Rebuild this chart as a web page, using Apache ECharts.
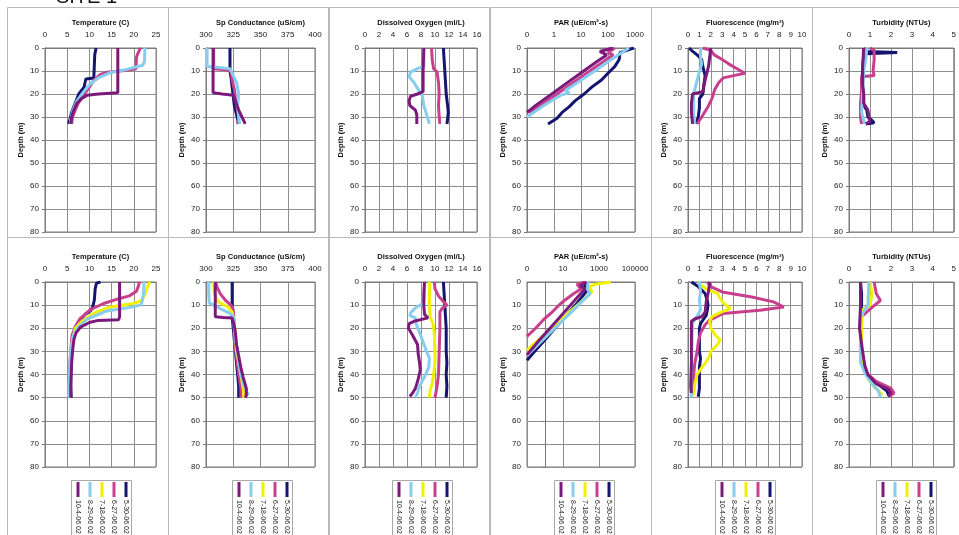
<!DOCTYPE html>
<html><head><meta charset="utf-8">
<script src="https://cdn.jsdelivr.net/npm/echarts@6/dist/echarts.min.js"></script>
<style>html,body{margin:0;padding:0;background:#fff}#c{width:959px;height:535px}</style>
</head><body><div id="c"></div>
<script>
// ---------- labels ----------
const siteLabel = 'SITE 1';
const titles = ['Temperature (C)','Sp Conductance (uS/cm)','Dissolved Oxygen (ml/L)','PAR (uE/cm\u00B2-s)','Fluorescence (mg/m\u00B3)','Turbidity (NTUs)'];
const depthName = 'Depth (m)';
const dates = ['5-30-06 02','6-27-06 02','7-18-06 02','8-29-06 02','10-4-06 02'];
const depthTicks = [0,10,20,30,40,50,60,70,80];
const xMin = [0,300,0,0.1,0,0];
const xMax = [25,400,16,null,10,5];
const xStep = [5,25,2,null,1,1];
const parMaxTop = 1000, parMaxBottom = 100000;

// ---------- top row (A) : [value, depth] ----------
const tempA_0530 = [[11.5,0],[11.2,3],[11.1,8],[11.0,13],[9.2,13.5],[8.8,17],[7.6,20],[6.8,24],[6.0,28],[5.6,31],[5.3,33]];
const tempA_0627 = [[21.5,0],[21,2],[20.6,4],[20.5,9],[18,9.8],[14,10.5],[12.5,11.5],[11,14],[10,17],[8.5,21],[7.5,24],[6.8,27],[6.2,30],[6.0,33]];
const tempA_0829 = [[22.5,0],[22.4,6],[22,7.5],[20,8.5],[18,9.5],[15,10.5],[12,13],[10,16],[8.5,19.5],[7.2,23],[6.3,27],[5.8,31],[5.7,33]];
const tempA_1004 = [[16.4,0],[16.4,19.5],[12,20],[9.5,20.5],[8.2,22],[7.2,24],[6.5,27],[6.0,30],[5.8,33]];

const condA_0530 = [[322,0],[322,10],[323,13],[324,17],[325,21],[326,25],[328,29],[330,33]];
const condA_0627 = [[307,0],[307,9],[318,9.5],[323,10],[324,14],[326,18],[327,22],[329,27],[330,30],[329,33]];
const condA_0829 = [[301,0],[301,8],[312,8.5],[322,9],[325,12],[328,15],[330,20],[329,25],[330,30],[331,33]];
const condA_1004 = [[306.5,0],[306.5,19.5],[315,20],[325,20.5],[327,23],[330,27],[333,30],[336,33]];

const doA_0530 = [[11.2,0],[11.3,5],[11.4,10],[11.5,15],[11.6,20],[11.8,25],[11.9,28],[11.8,31],[11.7,33]];
const doA_0627 = [[9.5,0],[9.6,5],[9.8,9],[10.3,10.5],[10.5,15],[10.6,20],[10.5,25],[10.6,30],[10.7,33]];
const doA_0829 = [[8.4,0],[8.4,8],[7.5,9],[6.5,10.5],[6.3,12.5],[7.0,15],[7.6,18],[8.2,21],[8.4,25],[8.7,28],[9.2,33]];
const doA_1004 = [[8.4,0],[8.3,10],[8.3,19],[7.5,20],[6.5,21],[6.3,23],[6.4,25],[7.2,27],[7.4,29],[7.4,33]];

const parA_0530 = [[900,0],[280,2],[260,5],[180,8],[100,11],[56,14],[25,17],[13,20],[6,23],[3.7,25.5],[2,28],[1.3,30.5],[0.6,33]];
const parA_0627 = [[180,0],[100,2],[155,3],[66,6],[21,10],[5.2,15],[1.3,20],[0.32,25],[0.12,28.5]];
const parA_0829 = [[600,0],[240,3],[100,6],[32,10],[7.5,15],[2.6,18.5],[3.7,19.5],[1.8,20.5],[0.42,25],[0.1,30]];
const parA_1004 = [[150,0],[50,1.5],[90,3],[38,6],[12.6,10],[3.2,15],[0.83,20],[0.21,25],[0.1,28]];

const fluA_0530 = [[0.1,0],[0.3,1],[0.8,3],[1.2,5],[1.3,8],[1.5,12],[1.4,16],[1.3,20],[1.0,22],[1.0,26],[0.9,30],[0.7,33]];
const fluA_0627 = [[1.3,0],[2.0,1],[2.3,3],[3.0,5],[3.6,7],[4.3,9],[5.0,11],[4.0,12],[3.1,13],[2.7,15],[2.35,18],[2.1,22],[1.7,26],[1.2,30],[0.8,33]];
const fluA_0829 = [[1.1,0],[1.1,4],[1.2,7],[0.9,12],[0.7,16],[0.5,20],[0.5,25],[0.5,30],[0.6,33]];
const fluA_1004 = [[2.0,0],[1.9,4],[1.8,8],[1.6,12],[1.4,16],[1.3,19],[0.4,20],[0.3,24],[0.3,28],[0.4,33]];

const turA_0530 = [[0.7,0],[0.8,1.5],[2.3,2],[0.8,2.5],[0.7,4],[0.65,10],[0.6,15],[0.7,20],[0.7,25],[0.85,27],[0.9,30],[1.1,31.5],[1.2,32.5],[0.8,33]];
const turA_0627 = [[1.0,0],[1.2,1],[1.2,5],[1.15,10],[1.2,12],[0.6,12.5],[0.6,18],[0.55,24],[0.55,30],[0.6,33]];
const turA_0829 = [[0.85,0],[0.8,5],[0.7,10],[0.65,20],[0.6,28],[0.75,33]];
const turA_1004 = [[0.7,0],[0.65,8],[0.65,16],[0.7,20],[0.7,24],[0.9,27],[0.95,30],[1.0,32],[0.8,33]];

// ---------- bottom row (B) ----------
const tempB_0530 = [[12.5,0],[11.6,0.5],[11.3,3],[11.1,8],[10.7,11],[10.2,12.5],[9.0,14],[7.8,17],[6.8,20],[6.3,25],[6.0,30],[5.9,35],[5.8,40],[5.8,45],[5.9,50]];
const tempB_0627 = [[21.3,0],[21.0,2],[20.6,4],[19,6],[17,7],[13.2,9.3],[10.2,12],[7.9,15.8],[6.8,19.4],[6.1,23],[5.8,30],[5.6,35],[5.5,40],[5.4,45],[5.3,49],[5.6,50]];
const tempB_0718 = [[23.6,0],[23.1,2],[22.6,5],[21.8,8],[20,9.3],[14.7,10.8],[11,13.5],[8.3,17],[6.8,20],[6.2,25],[5.9,30],[5.8,35],[5.7,40],[5.6,45],[5.5,50]];
const tempB_0829 = [[22.3,0],[22.2,5],[21.8,9],[21.5,10],[19,11],[14,12.5],[9.5,16],[7.5,19.5],[6.4,23],[5.8,30],[5.6,35],[5.5,40],[5.4,45],[5.3,49],[5.5,50]];
const tempB_1004 = [[16.8,0],[16.8,15],[16.6,16.3],[12,16.6],[10,17.5],[8,19.5],[7,22],[6.5,25],[6.2,30],[6.0,35],[5.9,40],[5.8,45],[5.8,50]];

const condB_0530 = [[324,0],[324,5],[324,10],[324,15],[325,20],[326,25],[327,30],[328,35],[329,40],[330,45],[330,50]];
const condB_0627 = [[309,0],[310,2],[313,5],[318,8],[323,10],[325,12],[326,18],[326,25],[328,32],[330,40],[332,46],[332,50]];
const condB_0718 = [[307,0],[307.5,5],[311,8.5],[320,10.8],[324,13],[326,18],[327,23],[328,30],[331,37],[333,43],[335,49],[334,50]];
const condB_0829 = [[302.5,0],[302.5,5],[303,9],[313,11.5],[322,13.6],[325,15],[326,20],[327,25],[329,30],[330,35],[332,40],[335,45],[338,48],[339,49]];
const condB_1004 = [[308.5,0],[308.5,15],[316,15.3],[324,15.6],[326,19],[327,22],[328,27],[330,32],[332,37],[334,41],[337,46],[337,49],[336,50]];

const doB_0530 = [[11.2,0],[11.3,5],[11.4,10],[11.5,15],[11.6,20],[11.6,25],[11.6,30],[11.7,35],[11.6,40],[11.7,45],[11.6,50]];
const doB_0627 = [[9.9,0],[10.0,3],[10.5,6],[11.2,8.5],[11.7,10],[11.0,11.5],[10.7,13],[10.7,20],[10.6,30],[10.5,40],[10.3,45],[10.0,50]];
const doB_0718 = [[9.2,0],[9.2,8],[9.3,15],[9.7,18],[9.9,22],[10.0,30],[10.0,35],[9.8,40],[9.6,44],[9.3,47],[9.2,50]];
const doB_0829 = [[8.5,0],[8.5,5],[8.4,9],[7.3,11],[6.6,13],[6.4,14.5],[7.2,15.5],[7.3,18],[7.8,22],[8.3,26],[8.8,30],[9.2,33],[9.1,37],[8.5,41],[7.8,45],[7.5,48],[7.2,50]];
const doB_1004 = [[8.5,0],[8.4,5],[8.4,10],[8.5,14],[9.0,15.5],[7,17],[6.3,18],[6.2,20],[6.8,23],[7.5,27],[7.6,31],[7.8,35],[7.9,38],[7.6,42],[7.2,46],[6.8,48],[6.4,49.5]];

const parB_0530 = [[180,0],[160,2],[200,4],[49,10],[13,15],[3.6,20],[1,25],[0.27,30],[0.1,33.8]];
const parB_0627 = [[150,0],[60,1],[100,3],[40,5],[12,8],[6,10],[2.5,13],[0.9,16],[0.3,20],[0.1,23.5]];
const parB_0718 = [[4500,0],[600,1],[280,2],[400,4],[330,5],[63,10],[12,15],[2.3,20],[0.44,25],[0.1,29.5]];
const parB_0829 = [[250,0],[220,3],[320,5],[72,10],[16,15],[3.5,20],[0.76,25],[0.17,30],[0.11,31]];
const parB_1004 = [[200,0],[90,1.5],[160,3],[26,10],[7,15],[1.9,20],[0.5,25],[0.1,31.5]];

const fluB_0530 = [[0.3,0],[0.6,1],[0.9,2],[1.2,3.5],[1.5,5],[1.7,8],[1.75,10],[1.7,12],[1.6,14.4],[1.3,16.5],[1.1,18],[1.0,20],[1.0,25],[1.0,30],[1.1,33],[1.0,37],[1.0,42],[1.0,46],[0.9,49.6]];
const fluB_0627 = [[1.7,0],[2.0,2],[3.0,4.3],[5.6,6.5],[7.5,8.6],[8.4,10.8],[6.3,12.2],[3.1,13.6],[1.9,16.5],[1.5,18.5],[1.1,22],[0.9,26],[0.8,30],[0.6,35],[0.5,40],[0.4,45],[0.3,49]];
const fluB_0718 = [[0.9,0],[1.2,1.5],[1.6,3],[2.6,5],[2.8,7],[3.1,9],[3.7,11.5],[3.2,12.5],[2.9,13],[2.1,15],[1.9,17],[2.0,20],[2.4,23],[2.8,25],[2.6,27],[2.3,28.5],[2.0,30],[1.9,32],[1.6,34.5],[1.2,37],[0.8,40],[0.6,44],[0.5,49]];
const fluB_0829 = [[1.0,0],[1.1,4],[1.0,8],[1.1,12],[0.9,14],[0.6,16],[0.4,18],[0.35,25],[0.3,35],[0.25,45],[0.3,50]];
const fluB_1004 = [[1.9,0],[1.8,4],[1.6,8.6],[1.5,13],[1.2,15],[0.6,16],[0.3,17],[0.3,25],[0.3,35],[0.25,45],[0.3,48]];

const turB_0530 = [[0.55,0],[0.6,5],[0.6,10],[0.55,20],[0.6,30],[0.75,38],[1.0,42],[1.5,45],[1.8,47],[1.9,49]];
const turB_0627 = [[1.2,0],[1.3,5],[1.5,8],[1.1,11],[0.6,15],[0.55,25],[0.6,35],[0.9,40],[1.3,43],[2.0,46],[2.15,48],[1.9,49.6]];
const turB_0718 = [[1.0,0],[1.1,5],[1.0,10],[0.65,12],[0.6,20],[0.6,30],[0.7,38],[1.0,43],[1.4,47],[1.6,49]];
const turB_0829 = [[0.95,0],[0.9,10],[0.55,15],[0.55,25],[0.55,35],[0.8,40],[1.1,44],[1.4,47],[1.5,50]];
const turB_1004 = [[0.55,0],[0.55,10],[0.5,20],[0.65,30],[0.75,36],[0.9,40],[1.3,44],[1.9,46.5],[2.0,48],[1.85,49.5]];

// ---------- assemble (series order = dates order) ----------
const rowsData = [
  [ [tempA_0530,tempA_0627,null,tempA_0829,tempA_1004],
    [condA_0530,condA_0627,null,condA_0829,condA_1004],
    [doA_0530,doA_0627,null,doA_0829,doA_1004],
    [parA_0530,parA_0627,null,parA_0829,parA_1004],
    [fluA_0530,fluA_0627,null,fluA_0829,fluA_1004],
    [turA_0530,turA_0627,null,turA_0829,turA_1004] ],
  [ [tempB_0530,tempB_0627,tempB_0718,tempB_0829,tempB_1004],
    [condB_0530,condB_0627,condB_0718,condB_0829,condB_1004],
    [doB_0530,doB_0627,doB_0718,doB_0829,doB_1004],
    [parB_0530,parB_0627,parB_0718,parB_0829,parB_1004],
    [fluB_0530,fluB_0627,fluB_0718,fluB_0829,fluB_1004],
    [turB_0530,turB_0627,turB_0718,turB_0829,turB_1004] ]
];

// ---------- styling / layout ----------
const FONT = '"Liberation Sans", Arial, Helvetica, sans-serif';
const colors = ['#15156f','#c8408d','#f0f000','#86cdef','#7c1a7c'];
const colLeft = [45,206,365,527,688,849];
const colWidth = [111,109,112,108,114,116];
const rowTop = [48,282];
const rowHeight = [184,185];
const panelX = [7,168,328,490,651,812];
const panelY = [7,237];
const gridColor = '#8e8e8e';
const frameColor = '#7a7a7a';

const grids = [], xAxes = [], yAxes = [], series = [], graphics = [];

function parFormatter(bottom) {
  return function (v) {
    const e = Math.round(Math.log10(v));
    if (bottom && Math.abs(e % 2) !== 1) return '';
    return v < 1 ? '0' : String(Math.round(v));
  };
}

for (let r = 0; r < 2; r++) {
  for (let c = 0; c < 6; c++) {
    const g = r * 6 + c;
    grids.push({left: colLeft[c], top: rowTop[r], width: colWidth[c], height: rowHeight[r],
      show: true, borderColor: frameColor, borderWidth: 1, backgroundColor: '#fff', containLabel: false});
    const isLog = (c === 3);
    const mainIdx = xAxes.length;
    const ax = {
      gridIndex: g, position: 'top',
      name: titles[c], nameLocation: 'middle', nameGap: 21,
      nameTextStyle: {fontFamily: FONT, fontSize: 7.5, fontWeight: 'bold', color: '#111'},
      axisLine: {show: true, lineStyle: {color: frameColor}},
      axisTick: {show: false},
      axisLabel: {fontFamily: FONT, fontSize: 8, color: '#222', margin: 9},
      splitLine: {show: !(isLog && r === 1), lineStyle: {color: gridColor, width: 1}}
    };
    if (isLog) {
      ax.type = 'log'; ax.logBase = 10; ax.min = xMin[c];
      ax.max = r === 0 ? parMaxTop : parMaxBottom;
      ax.axisLabel.formatter = parFormatter(r === 1);
    } else {
      ax.type = 'value'; ax.min = xMin[c]; ax.max = xMax[c]; ax.interval = xStep[c];
    }
    xAxes.push(ax);
    if (isLog && r === 1) {
      // decade gridlines every 100x (0.1, 10, 1000, 100000) in exponent space
      xAxes.push({gridIndex: g, type: 'value', position: 'bottom',
        min: Math.log10(xMin[c]), max: Math.log10(parMaxBottom), interval: 2,
        axisLine: {show: false}, axisTick: {show: false}, axisLabel: {show: false},
        splitLine: {show: true, lineStyle: {color: gridColor, width: 1}}});
    }
    yAxes.push({
      gridIndex: g, type: 'value', inverse: true,
      min: depthTicks[0], max: depthTicks[depthTicks.length - 1], interval: depthTicks[1] - depthTicks[0],
      name: depthName, nameLocation: 'middle', nameGap: 20, nameRotate: 90,
      nameTextStyle: {fontFamily: FONT, fontSize: 7.5, fontWeight: 'bold', color: '#111'},
      axisLine: {show: true, lineStyle: {color: frameColor}},
      axisTick: {show: true, length: 3, lineStyle: {color: frameColor}},
      axisLabel: {fontFamily: FONT, fontSize: 8, color: '#222', margin: 6},
      splitLine: {show: true, lineStyle: {color: gridColor, width: 1}}
    });
    const list = rowsData[r][c];
    for (let i = 0; i < list.length; i++) {
      if (!list[i]) continue;
      series.push({type: 'line', name: dates[i], xAxisIndex: mainIdx, yAxisIndex: g,
        data: list[i], showSymbol: false, symbol: 'none', smooth: false,
        lineStyle: {color: colors[i], width: 3}, itemStyle: {color: colors[i]},
        emphasis: {disabled: true}, z: 3 + i});
    }
    // panel frame
    graphics.push({type: 'rect', z: 0, silent: true,
      shape: {x: panelX[c] + 0.5, y: panelY[r] + 0.5, width: 161, height: r === 0 ? 230 : 320},
      style: {fill: null, stroke: '#b9b9b9', lineWidth: 1}});
    // legend (bottom row)
    if (r === 1) {
      const children = [{type: 'rect', shape: {x: 0.5, y: 0.5, width: 60, height: 80},
        style: {fill: '#fff', stroke: '#a8a8a8', lineWidth: 1}}];
      const order = [4, 3, 2, 1, 0];
      order.forEach(function (si, k) {
        const lx = 7 + 12 * k;
        children.push({type: 'line', shape: {x1: lx, y1: 2, x2: lx, y2: 17},
          style: {stroke: colors[si], lineWidth: 3}});
        children.push({type: 'text', x: lx, y: 20, rotation: -Math.PI / 2,
          style: {text: dates[si], fontFamily: FONT, fontSize: 7, fill: '#222',
            align: 'left', verticalAlign: 'middle'}});
      });
      graphics.push({type: 'group', x: panelX[c] + 64, y: 480, z: 10, silent: true, children: children});
    }
  }
}

graphics.push({type: 'text', x: 56, y: -3, z: 10, silent: true,
  style: {text: siteLabel, fontFamily: FONT, fontSize: 20, fill: '#111', verticalAlign: 'middle'}});

const chart = echarts.init(document.getElementById('c'), null, {renderer: 'canvas'});
chart.setOption({
  animation: false,
  backgroundColor: '#fff',
  grid: grids, xAxis: xAxes, yAxis: yAxes, series: series,
  graphic: graphics,
  tooltip: {show: false}
});
</script></body></html>
